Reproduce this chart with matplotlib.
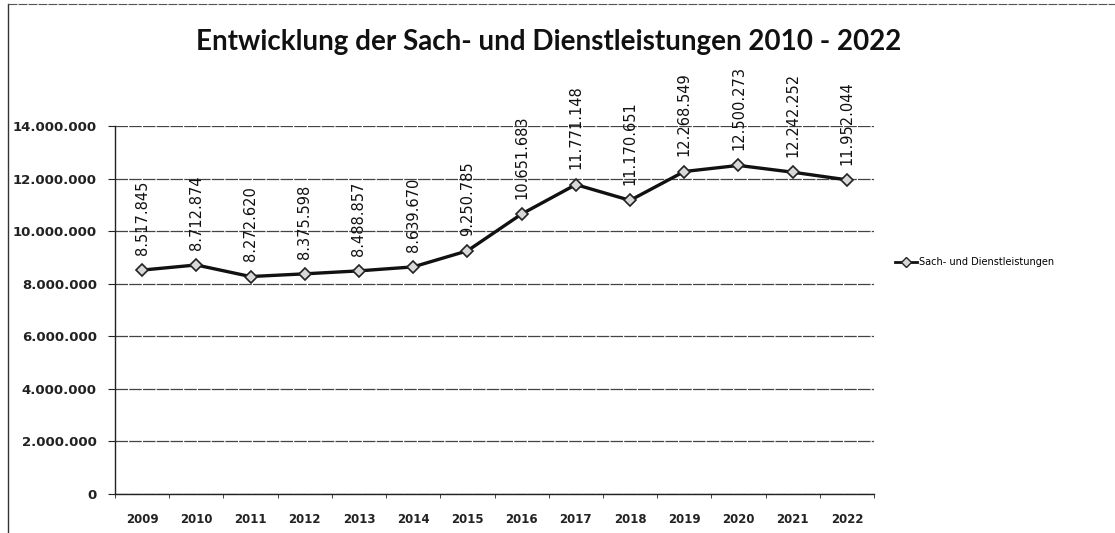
import matplotlib
matplotlib.use("Agg")
import matplotlib.pyplot as plt
from matplotlib.lines import Line2D
from matplotlib.ticker import FuncFormatter, FixedLocator

years = ["2009", "2010", "2011", "2012", "2013", "2014", "2015",
         "2016", "2017", "2018", "2019", "2020", "2021", "2022"]
values = [8517845, 8712874, 8272620, 8375598, 8488857, 8639670, 9250785,
          10651683, 11771148, 11170651, 12268549, 12500273, 12242252, 11952044]
series_name = "Sach- und Dienstleistungen"
title = "Entwicklung der Sach- und Dienstleistungen 2010 - 2022"
y_ticks = [0, 2000000, 4000000, 6000000, 8000000, 10000000, 12000000, 14000000]


def de_fmt(v, pos=None):
    return f"{int(round(v)):,}".replace(",", ".")


fig = plt.figure(figsize=(11.15, 5.33), dpi=100)
ax = fig.add_axes([0.1031, 0.0732, 0.6808, 0.6904])

x = list(range(len(years)))
ax.plot(x, values, color="#111111", lw=2.4, marker="D", ms=6.5,
        markerfacecolor="#d8d8d8", markeredgecolor="#222222", mew=1.2,
        zorder=3, label=series_name)

for xi, v in zip(x, values):
    ax.annotate(de_fmt(v), (xi, v), xytext=(0, 11), textcoords="offset points",
                rotation=90, ha="center", va="bottom", fontsize=10.5,
                family="DejaVu Sans", color="#111111")

ax.set_xlim(-0.5, len(years) - 0.5)
ax.set_ylim(0, 14000000)
ax.set_yticks(y_ticks)
ax.yaxis.set_major_formatter(FuncFormatter(de_fmt))
ax.set_xticks(x)
ax.set_xticklabels(years)
ax.xaxis.set_minor_locator(FixedLocator([i - 0.5 for i in range(len(years) + 1)]))
ax.tick_params(axis="x", which="major", length=0, pad=14, labelsize=8.5)
ax.tick_params(axis="x", which="minor", length=3, direction="out", color="#222222")
ax.tick_params(axis="y", length=5, direction="out", labelsize=9.5, pad=8,
               color="#222222")
for lab in ax.get_yticklabels() + ax.get_xticklabels():
    lab.set_fontweight("bold")
    lab.set_color("#222222")

ax.grid(axis="y", color="#444444", lw=0.9, ls=(0, (10, 1)))
ax.set_axisbelow(True)
for s in ["top", "right"]:
    ax.spines[s].set_visible(False)
ax.spines["left"].set_color("#222222")
ax.spines["bottom"].set_color("#222222")
ax.spines["left"].set_linewidth(1.0)
ax.spines["bottom"].set_linewidth(1.0)

fig.text(0.492, 0.922, title, ha="center", va="center", fontsize=20,
         fontweight="bold", family="Lato", color="#111111")

leg = fig.legend(handles=[Line2D([], [], color="#111111", lw=2, marker="D", ms=5,
                                 markerfacecolor="#d8d8d8", markeredgecolor="#222222")],
                 labels=[series_name], loc="center left",
                 bbox_to_anchor=(0.795, 0.508), frameon=False, fontsize=7,
                 handlelength=2.2, handletextpad=0.3)

fig.add_artist(Line2D([0.0075, 0.0075], [0, 0.993], color="#333333", lw=1.0,
                      transform=fig.transFigure))
fig.add_artist(Line2D([0.0075, 1.0], [0.993, 0.993], color="#555555", lw=0.8,
                      ls=(0, (8, 1)), transform=fig.transFigure))

fig.savefig("out.png", dpi=100)
